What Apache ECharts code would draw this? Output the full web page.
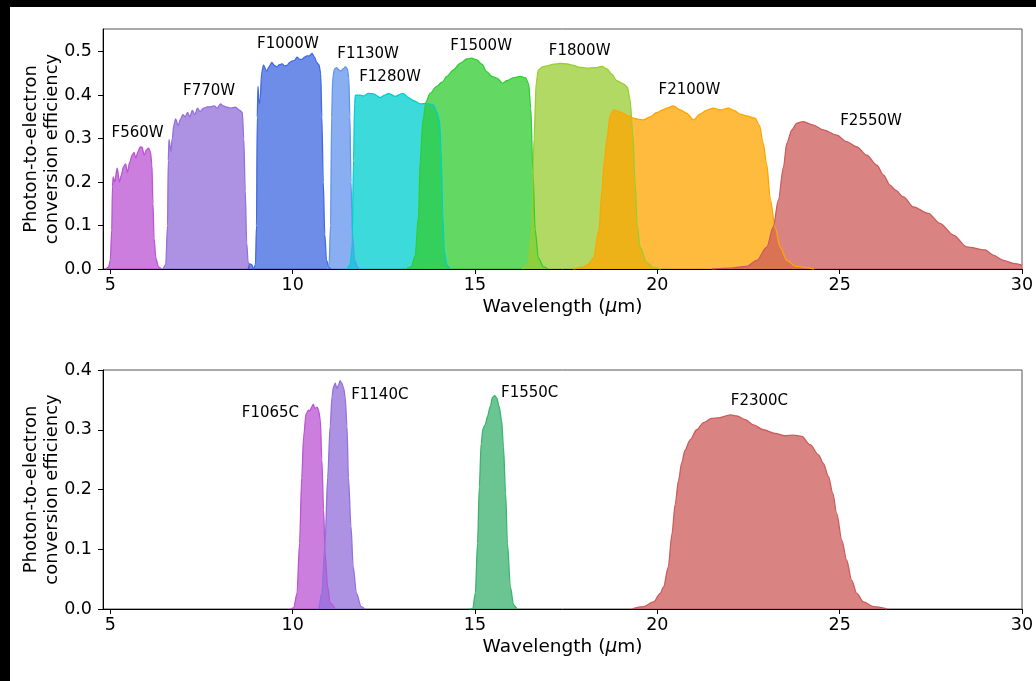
<!DOCTYPE html>
<html><head><meta charset="utf-8">
<script src="https://cdn.jsdelivr.net/npm/echarts@6/dist/echarts.min.js"></script>
<style>
html,body{margin:0;padding:0;background:#000;width:1036px;height:681px;overflow:hidden}
#c{position:absolute;left:10px;top:7px;width:1026px;height:674px;background:#fff}
</style></head><body><div id="c"></div>
<script>
// ---------- tick labels ----------
const xTicks = [5, 10, 15, 20, 25, 30];
const yTicksTop = [0, 0.1, 0.2, 0.3, 0.4, 0.5];
const yTicksBottom = [0, 0.1, 0.2, 0.3, 0.4];

// ---------- imaging filters (top panel) : [wavelength um, efficiency] ----------
const F560W = [[4.88,0],[4.95,0.004],[5.0,0.02],[5.04,0.09],[5.06,0.19],[5.08,0.212],[5.12,0.2],[5.19,0.232],[5.25,0.2],[5.3,0.215],[5.36,0.235],[5.42,0.242],[5.47,0.222],[5.53,0.245],[5.6,0.262],[5.65,0.268],[5.7,0.255],[5.76,0.27],[5.82,0.281],[5.87,0.28],[5.93,0.262],[5.99,0.274],[6.05,0.278],[6.1,0.27],[6.14,0.24],[6.17,0.15],[6.2,0.07],[6.25,0.025],[6.32,0.005],[6.4,0]];
const F770W = [[6.45,0],[6.52,0.01],[6.57,0.1],[6.59,0.25],[6.61,0.298],[6.66,0.27],[6.7,0.3],[6.74,0.33],[6.79,0.345],[6.86,0.33],[6.93,0.345],[6.99,0.355],[7.05,0.35],[7.12,0.36],[7.18,0.35],[7.25,0.365],[7.32,0.355],[7.39,0.37],[7.46,0.362],[7.56,0.37],[7.66,0.373],[7.74,0.373],[7.85,0.375],[7.93,0.37],[8.02,0.38],[8.1,0.375],[8.2,0.372],[8.3,0.37],[8.43,0.372],[8.55,0.365],[8.62,0.36],[8.66,0.3],[8.7,0.18],[8.74,0.06],[8.78,0.015],[8.85,0]];
const F1000W = [[8.78,0],[8.83,0.012],[8.88,0.01],[8.93,0],[8.98,0.01],[9.01,0.1],[9.03,0.35],[9.05,0.42],[9.08,0.38],[9.11,0.39],[9.15,0.45],[9.2,0.469],[9.29,0.455],[9.35,0.465],[9.43,0.475],[9.5,0.468],[9.57,0.465],[9.64,0.47],[9.71,0.472],[9.78,0.467],[9.84,0.468],[9.92,0.475],[9.98,0.478],[10.05,0.48],[10.12,0.487],[10.2,0.482],[10.25,0.482],[10.33,0.487],[10.39,0.49],[10.46,0.49],[10.53,0.496],[10.6,0.487],[10.66,0.475],[10.72,0.47],[10.77,0.45],[10.8,0.35],[10.84,0.2],[10.88,0.08],[10.93,0.02],[11.0,0.003],[11.05,0]];
const F1130W = [[10.95,0],[11.0,0.01],[11.04,0.1],[11.07,0.35],[11.1,0.44],[11.15,0.46],[11.2,0.463],[11.27,0.458],[11.32,0.455],[11.38,0.46],[11.45,0.465],[11.5,0.46],[11.54,0.44],[11.57,0.35],[11.6,0.2],[11.64,0.08],[11.7,0.02],[11.78,0.003],[11.85,0]];
const F1280W = [[11.5,0],[11.58,0.01],[11.63,0.05],[11.67,0.25],[11.7,0.38],[11.72,0.4],[11.85,0.4],[11.94,0.398],[12.08,0.404],[12.22,0.403],[12.4,0.394],[12.52,0.4],[12.63,0.404],[12.81,0.397],[13.02,0.404],[13.18,0.394],[13.32,0.387],[13.5,0.38],[13.68,0.381],[13.86,0.377],[13.96,0.36],[14.03,0.339],[14.07,0.27],[14.12,0.12],[14.16,0.04],[14.23,0.008],[14.32,0]];
const F1500W = [[13.1,0],[13.25,0.005],[13.36,0.03],[13.45,0.12],[13.5,0.25],[13.57,0.34],[13.66,0.385],[13.77,0.404],[13.95,0.42],[14.1,0.43],[14.23,0.443],[14.41,0.458],[14.59,0.473],[14.78,0.483],[14.91,0.485],[15.05,0.481],[15.19,0.471],[15.32,0.454],[15.46,0.443],[15.6,0.439],[15.76,0.427],[15.87,0.433],[16.06,0.44],[16.24,0.443],[16.38,0.44],[16.47,0.427],[16.53,0.37],[16.59,0.22],[16.65,0.09],[16.74,0.025],[16.88,0.005],[17.0,0]];
const F1800W = [[16.3,0],[16.45,0.01],[16.55,0.08],[16.62,0.3],[16.68,0.43],[16.74,0.458],[16.85,0.465],[16.97,0.467],[17.1,0.47],[17.24,0.472],[17.34,0.473],[17.52,0.472],[17.7,0.468],[17.85,0.464],[18.07,0.462],[18.3,0.463],[18.48,0.466],[18.62,0.46],[18.75,0.448],[18.89,0.433],[19.07,0.426],[19.18,0.418],[19.25,0.39],[19.33,0.31],[19.39,0.2],[19.45,0.1],[19.53,0.05],[19.71,0.015],[19.9,0.003],[20.1,0]];
const F2100W = [[17.7,0],[17.95,0.004],[18.1,0.01],[18.25,0.025],[18.4,0.09],[18.48,0.178],[18.55,0.25],[18.62,0.3],[18.71,0.354],[18.8,0.366],[18.95,0.362],[19.07,0.358],[19.2,0.352],[19.35,0.347],[19.5,0.344],[19.62,0.343],[19.8,0.35],[19.99,0.36],[20.15,0.366],[20.26,0.37],[20.44,0.375],[20.63,0.366],[20.81,0.358],[20.99,0.343],[21.17,0.356],[21.35,0.365],[21.54,0.37],[21.72,0.366],[21.95,0.37],[22.1,0.365],[22.27,0.356],[22.45,0.352],[22.68,0.347],[22.8,0.33],[22.9,0.29],[23.0,0.24],[23.1,0.16],[23.23,0.095],[23.37,0.05],[23.55,0.02],[23.8,0.006],[24.3,0]];
const F2550W = [[21.5,0],[22.0,0.002],[22.45,0.006],[22.73,0.02],[23.0,0.05],[23.18,0.097],[23.32,0.159],[23.46,0.235],[23.55,0.289],[23.69,0.32],[23.82,0.335],[24.0,0.339],[24.28,0.331],[24.55,0.32],[24.92,0.308],[25.19,0.293],[25.47,0.281],[25.74,0.262],[26.02,0.239],[26.2,0.216],[26.38,0.193],[26.52,0.182],[26.75,0.166],[27.02,0.143],[27.43,0.128],[27.75,0.105],[28.12,0.078],[28.48,0.051],[28.99,0.044],[29.21,0.032],[29.49,0.02],[29.76,0.013],[30.0,0.009]];

// ---------- coronagraph filters (bottom panel) ----------
const F1065C = [[9.95,0],[10.03,0.002],[10.12,0.026],[10.19,0.11],[10.25,0.22],[10.3,0.288],[10.37,0.327],[10.44,0.333],[10.48,0.332],[10.53,0.339],[10.57,0.343],[10.6,0.336],[10.62,0.336],[10.67,0.338],[10.71,0.333],[10.76,0.316],[10.8,0.25],[10.85,0.166],[10.89,0.093],[10.96,0.037],[11.03,0.01],[11.17,0]];
const F1140C = [[10.65,0],[10.71,0.001],[10.8,0.026],[10.89,0.11],[10.96,0.22],[11.03,0.305],[11.08,0.355],[11.12,0.372],[11.17,0.378],[11.21,0.369],[11.26,0.375],[11.3,0.382],[11.35,0.378],[11.4,0.369],[11.44,0.355],[11.49,0.305],[11.53,0.22],[11.6,0.138],[11.66,0.071],[11.75,0.026],[11.88,0.004],[11.98,0]];
const F1550C = [[14.85,0],[14.94,0.001],[15.01,0.026],[15.07,0.11],[15.12,0.205],[15.17,0.277],[15.22,0.302],[15.28,0.308],[15.34,0.322],[15.42,0.339],[15.48,0.354],[15.54,0.357],[15.6,0.353],[15.66,0.339],[15.73,0.316],[15.78,0.272],[15.84,0.194],[15.89,0.11],[15.97,0.037],[16.06,0.007],[16.15,0]];
const F2300C = [[19.3,0],[19.62,0.004],[19.9,0.012],[20.08,0.026],[20.17,0.037],[20.3,0.07],[20.4,0.125],[20.49,0.175],[20.58,0.215],[20.67,0.245],[20.76,0.266],[20.9,0.283],[21.08,0.3],[21.27,0.312],[21.49,0.319],[21.68,0.32],[22.0,0.325],[22.18,0.323],[22.41,0.317],[22.64,0.308],[22.91,0.3],[23.23,0.294],[23.5,0.29],[23.73,0.291],[23.96,0.289],[24.19,0.275],[24.42,0.258],[24.55,0.244],[24.69,0.222],[24.81,0.194],[24.92,0.16],[25.06,0.115],[25.19,0.082],[25.33,0.048],[25.47,0.026],[25.65,0.012],[25.93,0.004],[26.3,0]];

// filter names per panel
const topNames = ['F560W','F770W','F1000W','F1130W','F1280W','F1500W','F1800W','F2100W','F2550W'];
const bottomNames = ['F1065C','F1140C','F1550C','F2300C'];
// name label anchor points (data units)
const topLabelAnchors = [[5.75,0.313],[7.71,0.41],[9.87,0.518],[12.07,0.494],[12.67,0.442],[15.17,0.513],[17.87,0.502],[20.88,0.412],[25.86,0.34]];
const bottomLabelAnchors = [[9.39,0.3275],[12.39,0.358],[16.5,0.3615],[22.8,0.348]];

// ---------- styles ----------
const curves = {F560W,F770W,F1000W,F1130W,F1280W,F1500W,F1800W,F2100W,F2550W,F1065C,F1140C,F1550C,F2300C};
const colors = {
  F560W:'#BA55D3', F770W:'#9370DB', F1000W:'#4169E1', F1130W:'#6495ED', F1280W:'#00CED1',
  F1500W:'#32CD32', F1800W:'#9ACD32', F2100W:'#FFA500', F2550W:'#CD5C5C',
  F1065C:'#BA55D3', F1140C:'#9370DB', F1550C:'#3CB371', F2300C:'#CD5C5C'
};
const FONT = 'DejaVu Sans';

function areaSeries(name, idx){
  return {
    name, type:'line', xAxisIndex:idx, yAxisIndex:idx, data:curves[name],
    showSymbol:false, symbol:'none', smooth:0.3, smoothMonotone:'x',
    lineStyle:{color:colors[name], width:1.3},
    itemStyle:{color:colors[name]},
    areaStyle:{color:colors[name], opacity:0.76, origin:'start'},
    silent:true, z:2
  };
}
function labelSeries(names, anchors, idx){
  return {
    type:'scatter', xAxisIndex:idx, yAxisIndex:idx, symbolSize:1,
    itemStyle:{color:'rgba(255,255,255,0)'}, silent:true, z:10,
    data: names.map((n,i)=>({name:n, value:anchors[i]})),
    label:{show:true, position:'inside', formatter:p=>p.name, color:'#000', opacity:1, fontSize:15, fontFamily:FONT, textBorderWidth:0}
  };
}
function xAxisCfg(idx){
  return {
    type:'value', gridIndex:idx, min:4.8, max:30,
    name:'{a|Wavelength (}{b|μ}{a|m)}', nameLocation:'middle', nameGap:29, nameMoveOverlap:false,
    nameTextStyle:{rich:{a:{fontSize:18.5,color:'#000',fontFamily:FONT},b:{fontSize:18.5,color:'#000',fontFamily:FONT,fontStyle:'italic'}}},
    axisLine:{onZero:false, lineStyle:{color:'#000', width:1}},
    axisTick:{show:true, length:5, customValues:xTicks, lineStyle:{color:'#000'}},
    axisLabel:{customValues:xTicks, fontSize:17.5, color:'#000', margin:7, fontFamily:FONT},
    splitLine:{show:false}
  };
}
function yAxisCfg(idx, max, ticks){
  return {
    type:'value', gridIndex:idx, min:0, max:max,
    name:'Photon-to-electron\nconversion efficiency', nameLocation:'middle', nameGap:40, nameMoveOverlap:false,
    nameTextStyle:{fontSize:18, lineHeight:21, color:'#000', fontFamily:FONT},
    axisLine:{show:true, lineStyle:{color:'#000', width:1}},
    axisTick:{show:true, length:5, customValues:ticks, lineStyle:{color:'#000'}},
    axisLabel:{customValues:ticks, fontSize:17.5, color:'#000', margin:11, fontFamily:FONT, formatter:v=>v.toFixed(1)},
    splitLine:{show:false}
  };
}

const chart = echarts.init(document.getElementById('c'), null, {renderer:'canvas'});
chart.setOption({
  animation:false,
  backgroundColor:'#fff',
  textStyle:{fontFamily:FONT},
  grid:[
    {left:93, right:14, top:22, height:240, outerBoundsMode:'none', containLabel:false, show:true, borderColor:'#555', borderWidth:1, backgroundColor:'transparent'},
    {left:93, right:14, top:363, height:239, outerBoundsMode:'none', containLabel:false, show:true, borderColor:'#555', borderWidth:1, backgroundColor:'transparent'}
  ],
  xAxis:[xAxisCfg(0), xAxisCfg(1)],
  yAxis:[yAxisCfg(0, 0.552, yTicksTop), yAxisCfg(1, 0.4, yTicksBottom)],
  series:[
    ...topNames.map(n=>areaSeries(n,0)),
    ...bottomNames.map(n=>areaSeries(n,1)),
    labelSeries(topNames, topLabelAnchors, 0),
    labelSeries(bottomNames, bottomLabelAnchors, 1)
  ]
});
</script></body></html>
